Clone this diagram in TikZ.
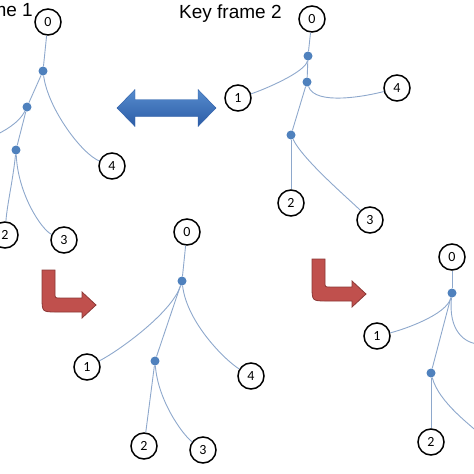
\documentclass[tikz,border=0pt]{standalone}
\usepackage{fontspec}
\setmainfont{Liberation Sans}
\newfontfamily\digitfont{Carlito}
\usetikzlibrary{positioning}
\definecolor{bonecol}{RGB}{142,168,204}
\definecolor{jointblue}{RGB}{79,129,189}
\definecolor{swaptop}{RGB}{86,140,206}
\definecolor{swapbot}{RGB}{44,92,166}
\definecolor{turnfill}{RGB}{192,80,77}
\definecolor{turnedge}{RGB}{140,56,54}

\begin{document}
\begin{tikzpicture}[x=1pt, y=-1pt,
  num/.style={circle, draw=black, line width=1.5pt, fill=white, minimum size=26pt,
    inner sep=0pt, font=\digitfont\fontsize{14}{14}\selectfont},
  joint/.style={circle, fill=jointblue, inner sep=0pt, minimum size=9pt},
  bone/.style={draw=bonecol, line width=0.9pt},
  title/.style={inner sep=0pt, font=\fontsize{19}{22}\selectfont},
  swap/.style={draw=swapbot, line width=0.4pt, top color=swaptop, bottom color=swapbot},
  turn/.style={draw=turnedge, line width=0.8pt, fill=turnfill}
]
\useasboundingbox (0,0) rectangle (474,474);
\clip (0,0) rectangle (474,474);

\node[title, anchor=base east] (title1) at (33,16) {me 1};
\node[title, anchor=base west] (title2) at (179,18) {Key frame 2};

% key frame 1
\node[num] (k1n0) at (48,22) {0};
\node[joint] (k1a) at (43,71) {};
\node[joint] (k1b) at (27,107) {};
\node[joint] (k1c) at (16,150) {};
\node[num] (k1n4) at (112,166) {4};
\node[num] (k1n2) at (5,235) {2};
\node[num] (k1n3) at (64,240) {3};
\coordinate (k1n1) at (-6,136);

\draw[bone] (k1n0) -- (k1a);
\draw[bone] (k1a) -- (k1b);
\draw[bone] (k1a) .. controls +(5,38) and +(-30,-12) .. (k1n4);
\draw[bone] (k1b) .. controls +(-8,16) and +(10,-5) .. (k1n1);
\draw[bone] (k1b) -- (k1c);
\draw[bone] (k1c) .. controls +(-3,30) and +(2,-30) .. (k1n2);
\draw[bone] (k1c) .. controls +(2,45) and +(-22,-10) .. (k1n3);

% key frame 2
\node[num] (k2n0) at (312,19) {0};
\node[joint] (k2a) at (308,56) {};
\node[joint] (k2b) at (307,82) {};
\node[joint] (k2c) at (291,135) {};
\node[num] (k2n1) at (238,98) {1};
\node[num] (k2n4) at (397,88) {4};
\node[num] (k2n2) at (291,203) {2};
\node[num] (k2n3) at (370,220) {3};

\draw[bone] (k2n0) -- (k2a);
\draw[bone] (k2a) .. controls +(-2,16) and +(25,-8) .. (k2n1);
\draw[bone] (k2a) -- (k2b);
\draw[bone] (k2b) .. controls +(8,24) and +(-30,8) .. (k2n4);
\draw[bone] (k2b) -- (k2c);
\draw[bone] (k2c) -- (k2n2);
\draw[bone] (k2c) .. controls +(12,25) and +(-20,-20) .. (k2n3);

% in-between 1
\node[num] (k3n0) at (187,232) {0};
\node[joint] (k3a) at (182,281) {};
\node[joint] (k3c) at (155,361) {};
\node[num] (k3n1) at (87,367) {1};
\node[num] (k3n4) at (251,376) {4};
\node[num] (k3n2) at (144,446) {2};
\node[num] (k3n3) at (203,450) {3};

\draw[bone] (k3n0) -- (k3a);
\draw[bone] (k3a) .. controls +(-10,32) and +(30,-15) .. (k3n1);
\draw[bone] (k3a) -- (k3c);
\draw[bone] (k3a) .. controls +(5,42) and +(-25,-15) .. (k3n4);
\draw[bone] (k3c) -- (k3n2);
\draw[bone] (k3c) .. controls +(3,40) and +(-20,-15) .. (k3n3);

% in-between 2
\node[num] (k4n0) at (452,257) {0};
\node[joint] (k4a) at (452,293) {};
\node[joint] (k4c) at (431,373) {};
\node[num] (k4n1) at (377,336) {1};
\node[num] (k4n2) at (431,442) {2};
\coordinate (k4n4) at (480,344);
\coordinate (k4n3) at (482,436);

\draw[bone] (k4n0) -- (k4a);
\draw[bone] (k4a) .. controls +(-5,22) and +(25,-6) .. (k4n1);
\draw[bone] (k4a) -- (k4c);
\draw[bone] (k4a) .. controls +(-4,38) and +(-15,0) .. (k4n4);
\draw[bone] (k4c) -- (k4n2);
\draw[bone] (k4c) .. controls +(8,30) and +(-10,-10) .. (k4n3);

% arrows
\path[swap] (117,108) -- (135,89.5) -- (135,99.5) -- (198,99.5) -- (198,89.5) -- (216,108)
  -- (198,126.5) -- (198,116.5) -- (135,116.5) -- (135,126.5) -- cycle;
\foreach \dx/\dy in {0/0, 270/-11}
  \path[turn, shift={(\dx,\dy)}] (42,270) -- (55,270) -- (55,293) .. controls (55,298) .. (60,298)
    -- (82,298) -- (82,292) -- (96,305) -- (82,318) -- (82,312) -- (57,312)
    .. controls (42,312) .. (42,297) -- cycle;
\end{tikzpicture}
\end{document}
